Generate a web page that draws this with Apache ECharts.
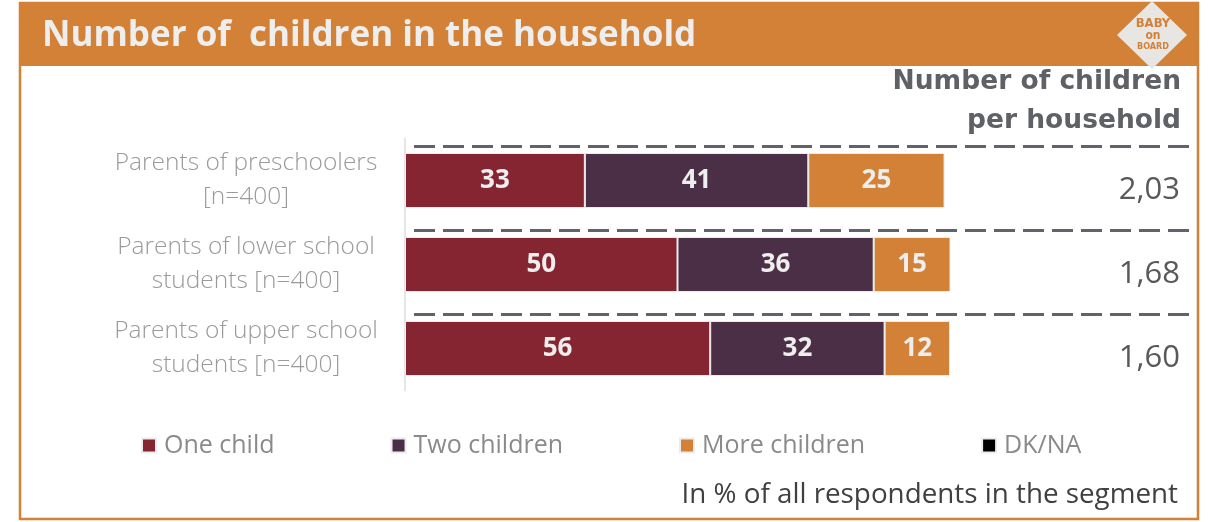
<!DOCTYPE html>
<html>
<head>
<meta charset="utf-8">
<script src="https://cdn.jsdelivr.net/npm/echarts@6/dist/echarts.min.js"></script>
<style>
  html, body { margin: 0; padding: 0; background: #ffffff; }
  #chart { width: 1211px; height: 522px; }
</style>
</head>
<body>
<div id="chart"></div>
<script>
// Segments (top to bottom)
const categories = [
  'Parents of preschoolers\n[n=400]',
  'Parents of lower school\nstudents [n=400]',
  'Parents of upper school\nstudents [n=400]'
];
// Share of respondents, in %
const oneChild = [33, 50, 56];
const twoChildren = [41, 36, 32];
const moreChildren = [25, 15, 12];
const dkNa = [null, null, null];
// Average number of children per household
const perHousehold = ['2,03', '1,68', '1,60'];

const seriesNames = ['One child', 'Two children', 'More children', 'DK/NA'];
const colors = ['#862532', '#4b2f46', '#d38137', '#000000'];

const ORANGE = '#d38137';
const BAR_W = 55;

const chart = echarts.init(document.getElementById('chart'), null, { renderer: 'canvas' });

function barSeries(name, data, color) {
  return {
    name: name,
    type: 'bar',
    stack: 'total',
    data: data,
    barWidth: BAR_W,
    itemStyle: { color: color, borderColor: '#ececec', borderWidth: 1 },
    label: {
      show: true,
      position: 'inside',
      color: '#eeeeee',
      fontFamily: 'Open Sans',
      fontWeight: 'bold',
      fontSize: 26
    },
    emphasis: { disabled: true }
  };
}

const option = {
  animation: false,
  backgroundColor: '#ffffff',
  grid: { left: 405, right: 261, top: 138.5, height: 252, containLabel: false },
  xAxis: { type: 'value', min: 0, max: 100, show: false },
  yAxis: [
    {
      type: 'category',
      data: categories,
      inverse: true,
      axisLine: { show: true, lineStyle: { color: '#e6e6e6', width: 2 } },
      axisTick: { show: false },
      axisLabel: {
        margin: 159,
        align: 'center',
        color: '#9a9a9a',
        fontFamily: 'Open Sans',
        fontWeight: 300,
        fontSize: 24.5,
        lineHeight: 34
      }
    },
    {
      type: 'category',
      data: perHousehold,
      inverse: true,
      position: 'right',
      axisLine: { show: false },
      axisTick: { show: false },
      axisLabel: {
        margin: 230,
        align: 'right',
        formatter: function (v) { return '{v|' + v + '}'; },
        rich: {
          v: {
            color: '#595959',
            fontFamily: 'Open Sans',
            fontSize: 31,
            padding: [20, 0, 0, 0]
          }
        }
      }
    }
  ],
  legend: {
    left: 136,
    top: 428,
    icon: 'rect',
    itemWidth: 14,
    itemHeight: 14,
    itemGap: 116,
    data: seriesNames,
    textStyle: { color: '#8a8a8a', fontFamily: 'Open Sans', fontSize: 25, padding: [0, 0, 0, 3] },
    selectedMode: false
  },
  series: [
    barSeries(seriesNames[0], oneChild, colors[0]),
    barSeries(seriesNames[1], twoChildren, colors[1]),
    barSeries(seriesNames[2], moreChildren, colors[2]),
    barSeries(seriesNames[3], dkNa, colors[3])
  ]
};

chart.setOption(option);

// Frame, header band, badge and the dashed row separators
const elements = [
  {
    type: 'rect', silent: true, z: 0,
    shape: { x: 20, y: 3, width: 1178, height: 516 },
    style: { fill: 'none', stroke: ORANGE, lineWidth: 2.5 }
  },
  {
    type: 'rect', silent: true, z: 1,
    shape: { x: 19, y: 3, width: 1180, height: 63 },
    style: { fill: ORANGE }
  },
  {
    type: 'text', silent: true, z: 2,
    x: 42, y: 19,
    style: {
      text: 'Number of  children in the household',
      fill: '#eeeeee', font: 'bold 35px "Open Sans"', verticalAlign: 'top'
    }
  },
  {
    type: 'polygon', silent: true, z: 3,
    shape: { points: [[1152, 1], [1187, 35], [1152, 69], [1117, 35]] },
    style: { fill: '#e8e6e3' }
  },
  {
    type: 'text', silent: true, z: 4,
    x: 1153, y: 35,
    style: {
      text: '{a|BABY}\n{b|on}\n{c|BOARD}', fill: ORANGE, align: 'center', verticalAlign: 'middle',
      rich: {
        a: { fill: ORANGE, font: 'bold 13px "DejaVu Sans Condensed"', lineHeight: 13 },
        b: { fill: ORANGE, font: 'bold 12px "DejaVu Sans Condensed"', lineHeight: 11 },
        c: { fill: ORANGE, font: 'bold 9px "DejaVu Sans Condensed"', lineHeight: 11 }
      }
    }
  },
  {
    type: 'text', silent: true, z: 2,
    x: 1181, y: 63,
    style: {
      text: 'Number of children\nper household', fill: '#5f6166', align: 'right', verticalAlign: 'top',
      font: 'bold 26.5px "DejaVu Sans"', lineHeight: 39
    }
  },
  {
    type: 'text', silent: true, z: 2,
    x: 1178, y: 481,
    style: {
      text: 'In % of all respondents in the segment', fill: '#404040', align: 'right', verticalAlign: 'top',
      font: '27.8px "Open Sans"'
    }
  }
];

categories.forEach(function (c, i) {
  const cy = chart.convertToPixel({ yAxisIndex: 0 }, i);
  const y = Math.round(cy - BAR_W / 2 - 7) + 0.5;
  const x0 = chart.convertToPixel({ xAxisIndex: 0 }, 0) + 9;
  elements.push({
    type: 'line', silent: true, z: 5,
    shape: { x1: x0, y1: y, x2: 1197, y2: y },
    style: { stroke: '#60636a', lineWidth: 3, lineDash: [21, 8] }
  });
});

chart.setOption({ graphic: elements });
</script>
</body>
</html>
